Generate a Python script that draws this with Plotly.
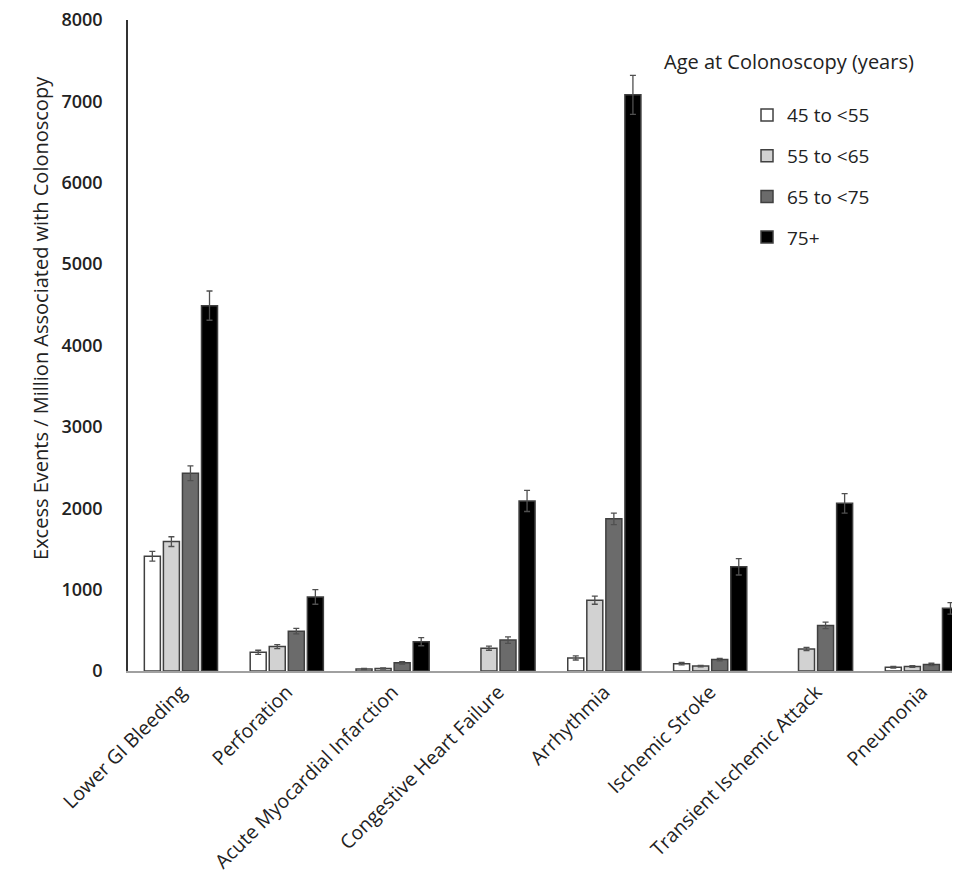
import plotly.graph_objects as go

categories = ["Lower GI Bleeding", "Perforation", "Acute Myocardial Infarction",
              "Congestive Heart Failure", "Arrhythmia", "Ischemic Stroke",
              "Transient Ischemic Attack", "Pneumonia"]
series_names = ["45 to <55", "55 to <65", "65 to <75", "75+"]
age_45_55 = [1410, 230, 25, None, 160, 90, None, 45]
age_55_65 = [1590, 300, 30, 280, 870, 60, 270, 55]
age_65_75 = [2430, 490, 100, 380, 1870, 140, 560, 80]
age_75p = [4490, 910, 360, 2090, 7080, 1280, 2060, 770]
err_45_55 = [60, 25, 8, 0, 25, 15, 0, 10]
err_55_65 = [60, 25, 8, 25, 50, 10, 20, 10]
err_65_75 = [90, 35, 15, 40, 70, 15, 40, 15]
err_75p = [180, 90, 50, 130, 240, 100, 120, 70]

values = [age_45_55, age_55_65, age_65_75, age_75p]
errors = [err_45_55, err_55_65, err_65_75, err_75p]
colors = ["#ffffff", "#d2d2d2", "#6b6b6b", "#000000"]

fig = go.Figure()
for i, (name, v, e, c) in enumerate(zip(series_names, values, errors, colors)):
    fig.add_trace(go.Bar(
        x=categories, y=v, name=name, legendgroup=name,
        marker=dict(color=c, line=dict(color="#404040", width=1.5)),
        error_y=dict(type="data", array=e, color="#505050", thickness=1.3, width=3),
    ))

font = "Open Sans, Liberation Sans, sans-serif"
txt = "#222222"
fig.update_layout(
    width=952, height=868,
    margin=dict(l=120, r=0, t=12, b=205),
    paper_bgcolor="white", plot_bgcolor="white",
    barmode="group", bargap=0.28, bargroupgap=0.16,
    font=dict(family=font, color=txt),
    showlegend=True,
    legend=dict(x=0.744, y=0.883, xanchor="left", yanchor="top",
                font=dict(size=19, color=txt),
                tracegroupgap=13, itemwidth=30, bgcolor="rgba(0,0,0,0)"),
    annotations=[
        dict(text="Age at Colonoscopy (years)", x=0.642, y=0.9355,
             xref="paper", yref="paper", xanchor="left", yanchor="middle",
             showarrow=False, font=dict(size=20, color=txt, family=font)),
        dict(text="Excess Events / Million Associated with Colonoscopy",
             x=-0.106, y=0.542, xref="paper", yref="paper", textangle=-90,
             xanchor="center", yanchor="middle", showarrow=False,
             font=dict(size=20, color=txt, family=font)),
    ],
    xaxis=dict(range=[-0.5, 7.36], tickangle=-45, showline=True, linecolor="#a0a0a0",
               linewidth=2, ticks="", automargin=False,
               tickfont=dict(size=19.5, color=txt)),
    yaxis=dict(range=[0, 8000], dtick=1000, showgrid=False, zeroline=False,
               showline=True, linecolor="#333333", linewidth=1.5, ticks="",
               automargin=False,
               ticklabelstandoff=20, ticklabeloverflow="allow",
               tickfont=dict(size=18, color=txt, weight=600)),
)
fig.write_html("out.html")
